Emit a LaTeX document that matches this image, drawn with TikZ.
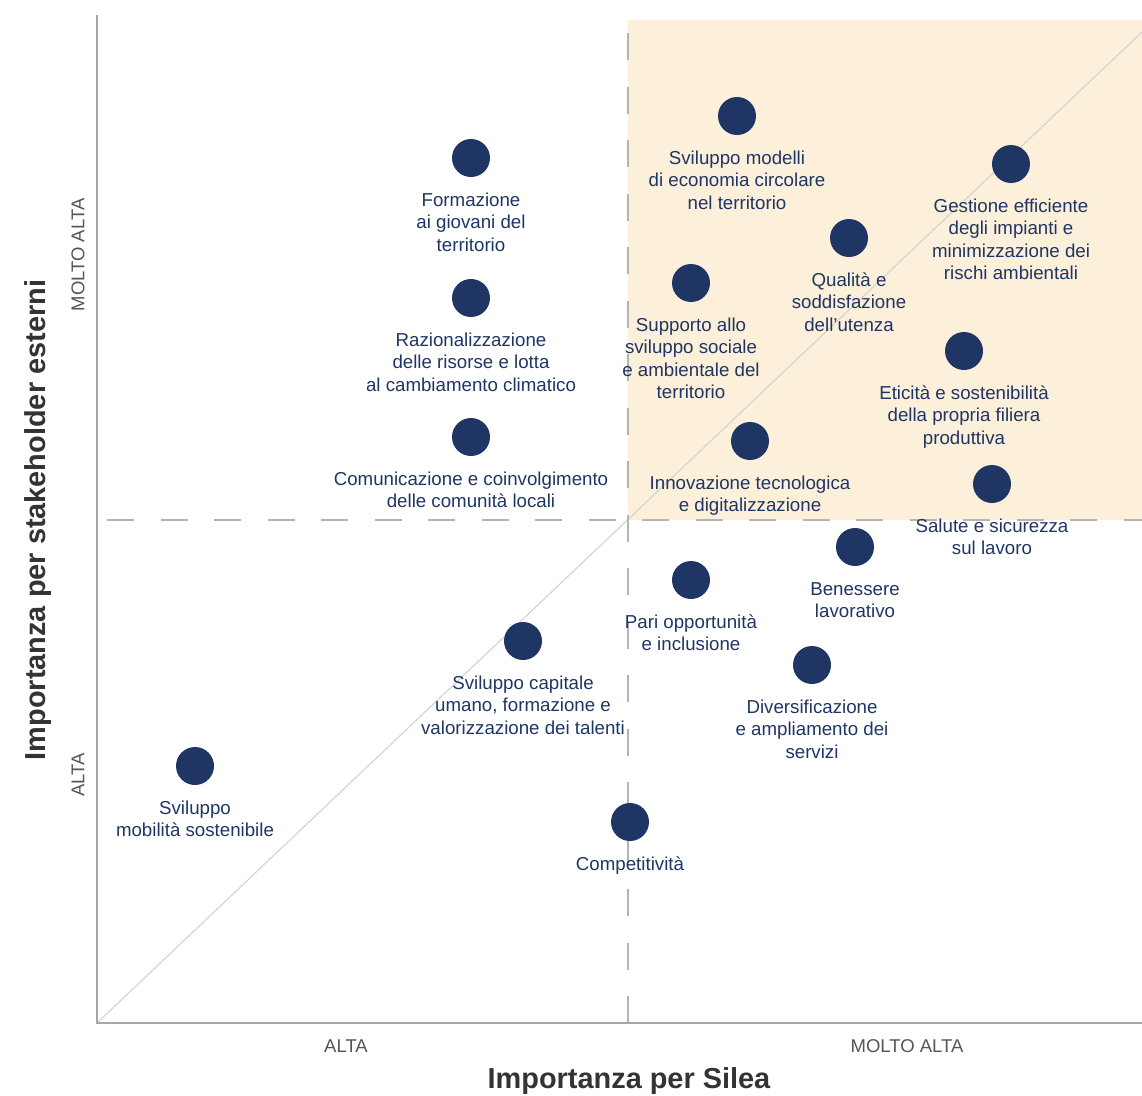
\documentclass[tikz,border=0pt]{standalone}
\usepackage{fontspec}
\setmainfont{Liberation Sans}
\definecolor{navy}{HTML}{1F3564}
\definecolor{beige}{HTML}{FDF0DA}
\definecolor{axisgray}{HTML}{A6A6A6}
\definecolor{dashgray}{HTML}{B4B4B4}
\definecolor{diaggray}{HTML}{D2D2D2}
\definecolor{ticktext}{HTML}{555555}
\definecolor{titletext}{HTML}{333333}
\newcommand\ML{\rule{0pt}{14pt}}
\begin{document}
\begin{tikzpicture}[x=1pt,y=-1pt,
  dot/.style={circle, fill=navy, minimum size=38pt, inner sep=0pt},
  lab/.style={anchor=north, align=center, inner sep=0pt, text=navy, font=\fontsize{18.7}{22.5}\selectfont},
  tick/.style={inner sep=0pt, text=ticktext, font=\fontsize{18.5}{20}\selectfont},
  axtitle/.style={inner sep=0pt, text=titletext, font=\fontsize{28.9}{32}\bfseries\selectfont},
  dashline/.style={draw=dashgray, line width=1.8pt, dash pattern=on 27pt off 26.5pt},
  axisline/.style={draw=axisgray, line width=2pt}
]
\useasboundingbox (0,0) rectangle (1142,1095);
% coordinates
\coordinate (O) at (97,1023);
\coordinate (Ytop) at (97,15);
\coordinate (Xend) at (1142,1023);
\coordinate (Btl) at (628,20);
\coordinate (Bbr) at (1142,520);
\coordinate (Dend) at (1142,32);
\coordinate (Vtop) at (628,33);
\coordinate (Vbot) at (628,1023);
\coordinate (Hl) at (107,520);
\coordinate (Hr) at (1142,520);
% background quadrant
\fill[beige] (Btl) rectangle (Bbr);
% diagonal
\draw[diaggray, line width=1.1pt] (O) -- (Dend);
% dashed lines
\draw[dashline] (Vtop) -- (Vbot);
\draw[dashline] (Hl) -- (Hr);
% axes
\draw[axisline] (Ytop) -- (O) -- (Xend);
% tick labels
\node[tick, rotate=90] (ty2) at (78,255) {MOLTO ALTA};
\node[tick, rotate=90] (ty1) at (78,775) {ALTA};
\node[tick] (tx1) at (346,1046) {ALTA};
\node[tick] (tx2) at (907,1046) {MOLTO ALTA};
% axis titles
\node[axtitle] (xt) at (629,1081) {Importanza per Silea};
\node[axtitle, rotate=90] (yt) at (38,520) {Importanza per stakeholder esterni};
% points
\node[dot] (d1) at (471,158) {};
\node[lab] (l1) at ([yshift=-15pt]d1.south) {\ML Formazione\\ai giovani del\\territorio};
\node[dot] (d2) at (471,298) {};
\node[lab] (l2) at ([yshift=-15pt]d2.south) {\ML Razionalizzazione\\delle risorse e lotta\\al cambiamento climatico};
\node[dot] (d3) at (471,437) {};
\node[lab] (l3) at ([yshift=-15pt]d3.south) {\ML Comunicazione e coinvolgimento\\delle comunità locali};
\node[dot] (d4) at (737,116) {};
\node[lab] (l4) at ([yshift=-15pt]d4.south) {\ML Sviluppo modelli\\di economia circolare\\nel territorio};
\node[dot] (d5) at (1011,164) {};
\node[lab] (l5) at ([yshift=-15pt]d5.south) {\ML Gestione efficiente\\degli impianti e\\minimizzazione dei\\rischi ambientali};
\node[dot] (d6) at (849,238) {};
\node[lab] (l6) at ([yshift=-15pt]d6.south) {\ML Qualità e\\soddisfazione\\dell’utenza};
\node[dot] (d7) at (691,283) {};
\node[lab] (l7) at ([yshift=-15pt]d7.south) {\ML Supporto allo\\sviluppo sociale\\e ambientale del\\territorio};
\node[dot] (d8) at (964,351) {};
\node[lab] (l8) at ([yshift=-15pt]d8.south) {\ML Eticità e sostenibilità\\della propria filiera\\produttiva};
\node[dot] (d9) at (750,441) {};
\node[lab] (l9) at ([yshift=-15pt]d9.south) {\ML Innovazione tecnologica\\e digitalizzazione};
\node[dot] (d10) at (992,484) {};
\node[lab] (l10) at ([yshift=-15pt]d10.south) {\ML Salute e sicurezza\\sul lavoro};
\node[dot] (d11) at (855,547) {};
\node[lab] (l11) at ([yshift=-15pt]d11.south) {\ML Benessere\\lavorativo};
\node[dot] (d12) at (691,580) {};
\node[lab] (l12) at ([yshift=-15pt]d12.south) {\ML Pari opportunità\\e inclusione};
\node[dot] (d13) at (523,641) {};
\node[lab] (l13) at ([yshift=-15pt]d13.south) {\ML Sviluppo capitale\\umano, formazione e\\valorizzazione dei talenti};
\node[dot] (d14) at (812,665) {};
\node[lab] (l14) at ([yshift=-15pt]d14.south) {\ML Diversificazione\\e ampliamento dei\\servizi};
\node[dot] (d15) at (195,766) {};
\node[lab] (l15) at ([yshift=-15pt]d15.south) {\ML Sviluppo\\mobilità sostenibile};
\node[dot] (d16) at (630,822) {};
\node[lab] (l16) at ([yshift=-15pt]d16.south) {\ML Competitività};
\end{tikzpicture}
\end{document}
